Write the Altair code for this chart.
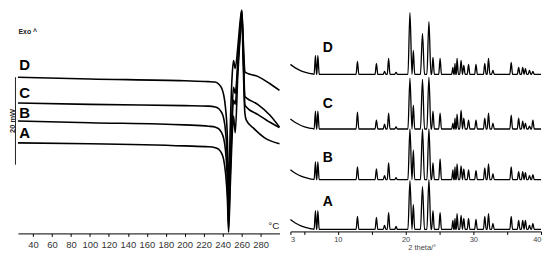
import altair as alt
import pandas as pd

# ---------------- DSC curves (temperature °C, heat flow mW) ----------------
dsc_T = [24, 100, 200, 225, 232, 236, 239, 241, 243, 245, 246.3, 247.8, 249.8,
         251.5, 253.3, 256, 258.5, 260.2, 261.8, 263.5, 265, 277, 290, 300]
dsc_D = [35.7, 35.3, 34.9, 34.7, 34.6, 34.1, 33.2, 31.8, 28.8, 22.0, 8.0, 22.0, 35.0,
         39.5, 37.7, 42.5, 48.5, 51.0, 44.0, 37.0, 36.7, 35.9, 34.2, 32.7]
dsc_C = [29.8, 29.5, 29.2, 29.1, 28.9, 28.5, 27.6, 26.4, 23.5, 16.0, 3.0, 14.0, 27.0,
         33.4, 32.0, 39.0, 47.0, 51.0, 42.0, 31.3, 31.0, 29.5, 27.0, 24.3]
dsc_B = [25.7, 25.3, 24.8, 24.5, 24.3, 23.9, 23.0, 21.8, 19.0, 12.0, 1.5, 12.0, 24.0,
         30.5, 29.5, 38.0, 46.0, 50.5, 41.0, 29.4, 28.9, 27.2, 25.4, 24.2]
dsc_A_T = [24, 100, 200, 225, 232, 236, 239, 241, 243, 245, 246.3, 247.8, 249.8,
           251.5, 253.3, 256, 258.5, 260.2, 261.8, 263.5, 265, 273.4, 284, 300]
dsc_A = [20.7, 20.5, 20.0, 19.8, 19.6, 19.2, 18.3, 17.0, 14.0, 8.0, 0.3, 9.0, 21.0,
         26.8, 23.0, 36.0, 45.0, 50.0, 38.0, 27.5, 25.9, 23.9, 21.9, 20.5]

dsc_labels = ["A", "B", "C", "D"]
dsc_label_T = [31, 31, 31, 31]
dsc_label_mW = [23.0, 27.5, 32.0, 38.6]

scale_bar_T = [21.4]
scale_bar_mW = [15.7, 35.7]          # 20 mW
scale_text_T = [18.4]
scale_text_mW = [25.7]
exo_T = [24.5]
exo_mW = [46.1]
unit_T = [300]
unit_mW = [0.6]

dsc_ticks = [40, 60, 80, 100, 120, 140, 160, 180, 200, 220, 240, 260, 280]

# ---------------- XRD patterns (2theta, intensity a.u.) ----------------
peak_pos = [6.7, 7.05, 12.9, 15.7, 16.9, 17.5, 18.6, 20.65, 21.15, 22.5, 23.45, 24.05,
            25.1, 27.0, 27.3, 27.6, 28.2, 28.6, 29.3, 30.4, 31.7, 32.25, 32.9, 35.6,
            36.7, 37.3, 37.7, 38.3, 38.8]
h_D = [19, 19, 13, 11, 3, 16, 2, 62, 24, 41, 53, 17, 16, 7, 11, 16, 14, 9, 10, 10,
       11, 16, 4, 12, 7, 7, 6, 4, 3]
h_C = [18, 18, 17, 9, 5, 16, 2, 51, 24, 50, 52, 18, 16, 6, 11, 15, 19, 11, 9, 9,
       11, 16, 6, 14, 11, 8, 6, 3, 9]
h_B = [18, 18, 13, 11, 4, 17, 2, 51, 30, 51, 51, 17, 21, 10, 13, 16, 14, 11, 10, 9,
       12, 16, 6, 13, 8, 8, 7, 4, 5]
h_A = [19, 19, 13, 12, 4, 17, 3, 49, 25, 43, 50, 19, 17, 9, 11, 16, 14, 11, 11, 10,
       13, 16, 6, 13, 9, 9, 9, 4, 6]
bg_2theta = [3.0, 3.5, 4.0, 4.5, 5.0, 5.5, 6.0, 6.4]
bg_I = [10, 7.5, 5.5, 3.8, 2.5, 1.5, 0.7, 0.3]
xrd_names = ["A", "B", "C", "D"]
xrd_offsets = [2, 52, 103, 158]
xrd_label_2theta = [8.5, 8.5, 8.5, 8.5]
xrd_label_I = [29.3, 74.3, 127.7, 184.3]
xrd_ticks = [3, 5, 10, 15, 20, 25, 30, 35, 40]

FONT = "Liberation Sans, Arial, sans-serif"
BOLD = "Liberation Sans, Arial, sans-serif"

# ---------------- build tables ----------------
rows = []
for name, ts, vs in [("A", dsc_A_T, dsc_A), ("B", dsc_T, dsc_B),
                     ("C", dsc_T, dsc_C), ("D", dsc_T, dsc_D)]:
    for t, v in zip(ts, vs):
        rows.append({"curve": name, "T": t, "mW": v})
dsc_df = pd.DataFrame(rows)

xrows = []
for name, hs, off in zip(xrd_names, [h_A, h_B, h_C, h_D], xrd_offsets):
    for t, v in zip(bg_2theta, bg_I):
        xrows.append({"trace": name, "tt": t, "I": off + v})
    for p, h in zip(peak_pos, hs):
        w = 0.3 if h > 30 else 0.2
        xrows.append({"trace": name, "tt": p - w, "I": off})
        xrows.append({"trace": name, "tt": p, "I": off + h})
        xrows.append({"trace": name, "tt": p + w, "I": off})
    xrows.append({"trace": name, "tt": 40, "I": off})
xrd_df = pd.DataFrame(xrows)

# ---------------- left: DSC ----------------
xs = alt.Scale(domain=[24, 300], nice=False, zero=False)
ys = alt.Scale(domain=[0, 51.14], nice=False, zero=False)
x_axis = alt.Axis(values=dsc_ticks, title=None, grid=False, tickSize=3,
                  labelPadding=3, labelFontSize=9.5, labelColor="#333",
                  labelOverlap=False, labelFont=FONT,
                  domainColor="black", tickColor="black")


def xq(field):
    return alt.X(field, scale=xs, axis=x_axis)


def yq(field):
    return alt.Y(field, scale=ys, axis=None)


dsc_lines = alt.Chart(dsc_df).mark_line(
    color="black", strokeWidth=1.6, interpolate="monotone", strokeJoin="round"
).encode(x=xq("T:Q"), y=yq("mW:Q"), detail="curve:N")

dsc_lab = alt.Chart(pd.DataFrame({"t": dsc_labels, "T": dsc_label_T, "mW": dsc_label_mW})).mark_text(
    fontSize=15, fontWeight="bold", font=BOLD, color="black", align="center", baseline="middle"
).encode(x=xq("T:Q"), y=yq("mW:Q"), text="t:N")

bar = alt.Chart(pd.DataFrame({"T": scale_bar_T, "y1": [scale_bar_mW[0]], "y2": [scale_bar_mW[1]]})).mark_rule(
    color="#222", strokeWidth=1
).encode(x=xq("T:Q"), y=yq("y1:Q"), y2="y2:Q")

bar_text = alt.Chart(pd.DataFrame({"T": scale_text_T, "mW": scale_text_mW, "t": ["20 mW"]})).mark_text(
    fontSize=7.5, fontWeight="bold", font=BOLD, angle=270, align="center", baseline="middle", color="#222"
).encode(x=xq("T:Q"), y=yq("mW:Q"), text="t:N")

exo = alt.Chart(pd.DataFrame({"T": exo_T, "mW": exo_mW, "t": ["Exo ^"]})).mark_text(
    fontSize=7, fontWeight="bold", font=BOLD, align="left", baseline="middle", color="#222"
).encode(x=xq("T:Q"), y=yq("mW:Q"), text="t:N")

unit = alt.Chart(pd.DataFrame({"T": unit_T, "mW": unit_mW, "t": ["°C"]})).mark_text(
    fontSize=10, font=FONT, align="right", baseline="bottom", color="#222"
).encode(x=xq("T:Q"), y=yq("mW:Q"), text="t:N")

left = alt.layer(dsc_lines, dsc_lab, bar, bar_text, exo, unit).properties(width=263, height=225)

# ---------------- right: XRD ----------------
xs2 = alt.Scale(domain=[3, 40], nice=False, zero=False)
ys2 = alt.Scale(domain=[0, 223], nice=False, zero=False)
x_axis2 = alt.Axis(values=xrd_ticks, title="2 theta/°", grid=False, tickSize=3,
                   labelPadding=1, labelFontSize=7.5, labelColor="#444", labelFont=FONT,
                   labelOverlap=False,
                   labelExpr="indexof([3, 10, 20, 30, 40], datum.value) >= 0 ? datum.label : ''",
                   titleFont=FONT, titleFontSize=7.5, titleFontWeight="normal", titleColor="#444",
                   titlePadding=0, titleX=132, titleY=12, titleBaseline="top",
                   domainColor="black", tickColor="black")

xrd_lines = alt.Chart(xrd_df).mark_line(
    color="black", strokeWidth=1.3, strokeJoin="round", interpolate="monotone"
).encode(
    x=alt.X("tt:Q", scale=xs2, axis=x_axis2),
    y=alt.Y("I:Q", scale=ys2, axis=None),
    detail="trace:N",
)

xrd_lab = alt.Chart(pd.DataFrame({"t": xrd_names, "tt": xrd_label_2theta, "I": xrd_label_I})).mark_text(
    fontSize=14, fontWeight="bold", font=BOLD, color="black", align="center", baseline="middle"
).encode(x=alt.X("tt:Q", scale=xs2, axis=x_axis2), y=alt.Y("I:Q", scale=ys2, axis=None), text="t:N")

right = alt.layer(xrd_lines, xrd_lab).properties(width=252, height=223)

chart = alt.hconcat(left, right, spacing=11, bounds="flush", padding=0).configure_view(stroke=None)

chart.save("out.html", embed_options={"renderer": "svg", "actions": False})
